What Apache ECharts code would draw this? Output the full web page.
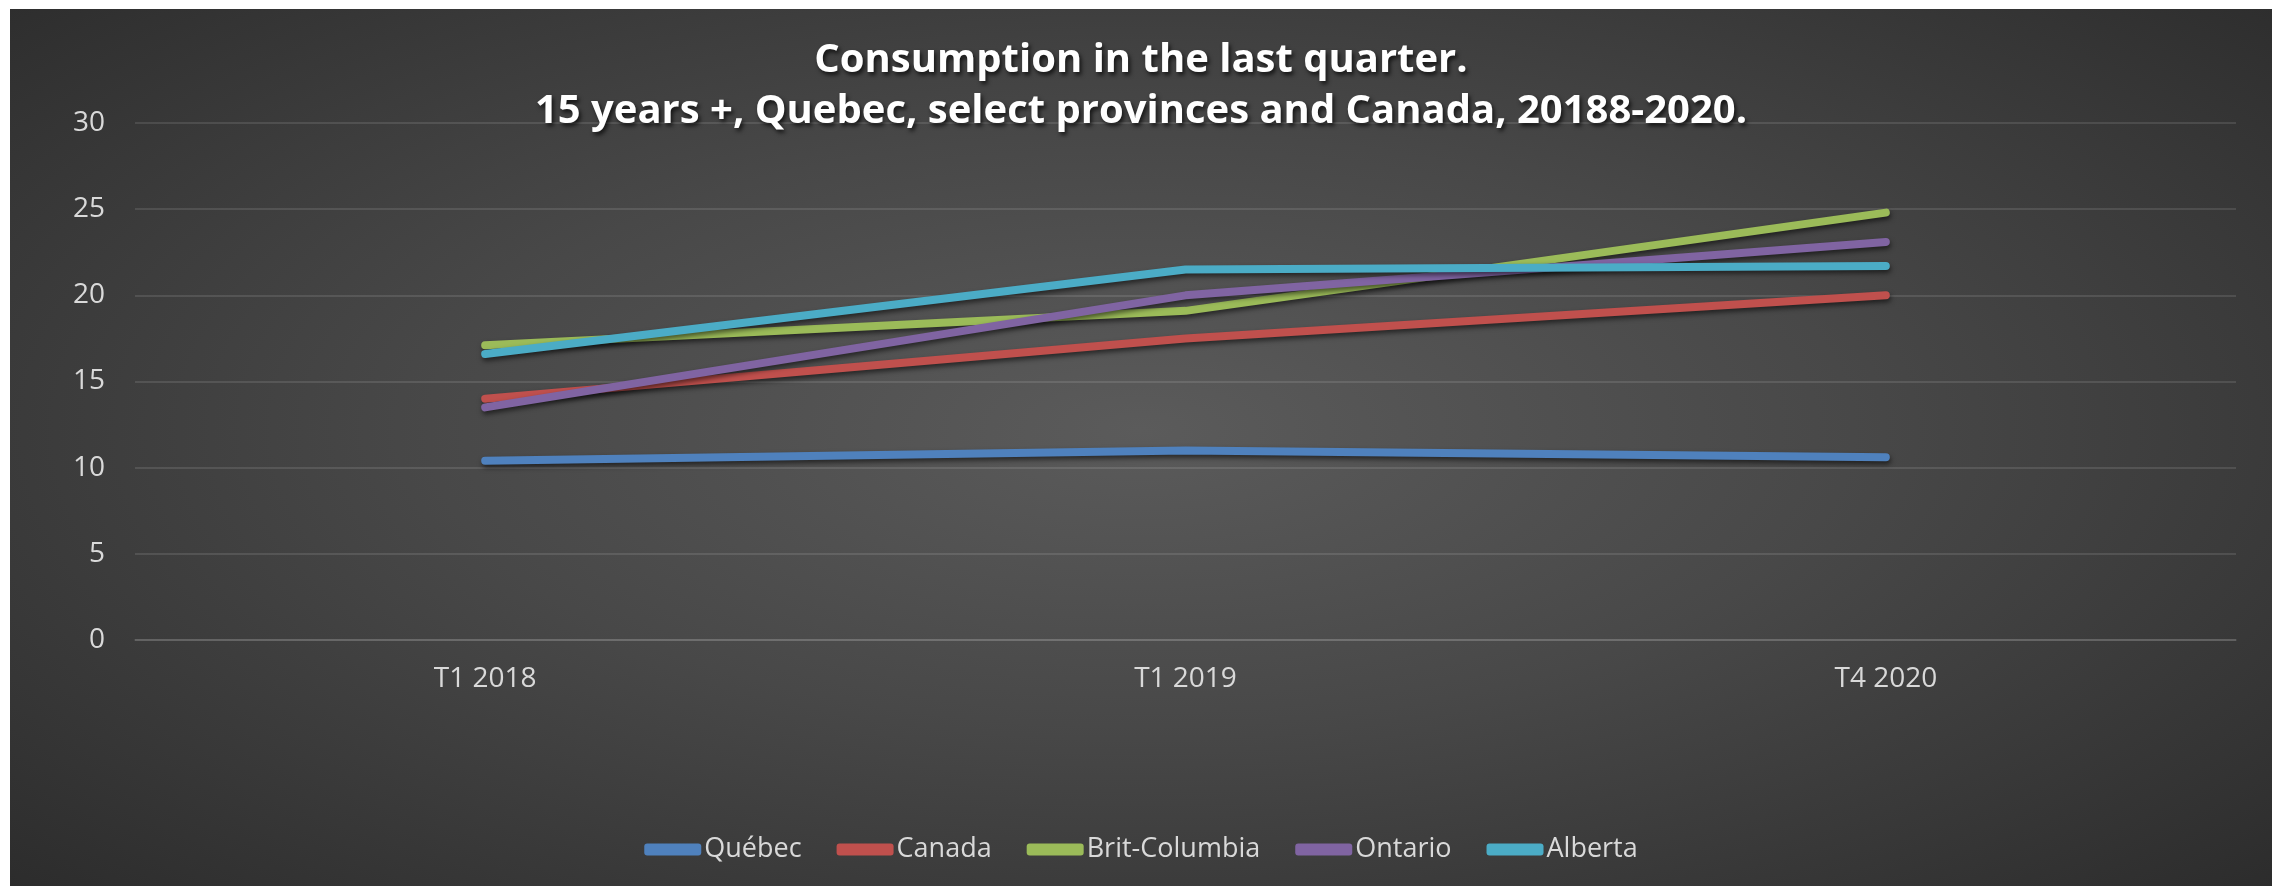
<!DOCTYPE html>
<html>
<head>
<meta charset="utf-8">
<script src="https://cdn.jsdelivr.net/npm/echarts@6/dist/echarts.min.js"></script>
<style>
html,body{margin:0;padding:0;background:#fff;width:2272px;height:886px;overflow:hidden;}
#chart{position:absolute;left:10px;top:9px;width:2262px;height:877px;
background:radial-gradient(ellipse 70% 75% at 50% 48%, #5b5b5b 0%, #484848 45%, #2c2c2c 100%);}
</style>
</head>
<body>
<div id="chart"></div>
<script>
const categories = ['T1 2018', 'T1 2019', 'T4 2020'];
const quebec = [10.4, 11.0, 10.6];
const canada = [14.0, 17.5, 20.0];
const britColumbia = [17.1, 19.1, 24.8];
const ontario = [13.5, 20.0, 23.1];
const alberta = [16.6, 21.5, 21.7];
const seriesNames = ['Québec', 'Canada', 'Brit-Columbia', 'Ontario', 'Alberta'];
const seriesData = [quebec, canada, britColumbia, ontario, alberta];
const colors = ['#4f81bd', '#c0504d', '#9bbb59', '#8064a2', '#4bacc6'];
const titleLines = ['Consumption in the last quarter.', '15 years +, Quebec, select provinces and Canada, 20188-2020.'];

const chart = echarts.init(document.getElementById('chart'), null, {renderer: 'canvas'});
const font = '"Open Sans", sans-serif';
chart.setOption({
  backgroundColor: 'transparent',
  animation: false,
  color: colors,
  title: {
    text: titleLines.join('\n'),
    left: 'center',
    top: 21,
    textStyle: {
      color: '#ffffff',
      fontFamily: font,
      fontWeight: 'bold',
      fontSize: 40,
      lineHeight: 51,
      textShadowColor: 'rgba(0,0,0,0.7)',
      textShadowBlur: 4,
      textShadowOffsetX: 2,
      textShadowOffsetY: 3
    }
  },
  legend: {
    data: seriesNames,
    bottom: 18,
    left: 'center',
    itemWidth: 57,
    itemHeight: 12,
    itemGap: 35,
    icon: 'roundRect',
    textStyle: {color: '#d9d9d9', fontFamily: font, fontSize: 27, padding: [0, 0, 0, -2]}
  },
  grid: {left: 125, right: 36, top: 114, bottom: 246, containLabel: false},
  xAxis: {
    type: 'category',
    data: categories,
    boundaryGap: true,
    axisLine: {show: true, lineStyle: {color: 'rgba(255,255,255,0.15)', width: 1.5}},
    axisTick: {show: false},
    axisLabel: {color: '#d9d9d9', fontFamily: font, fontSize: 28, margin: 25}
  },
  yAxis: {
    type: 'value',
    min: 0, max: 30, interval: 5,
    axisLine: {show: false},
    axisTick: {show: false},
    axisLabel: {color: '#d9d9d9', fontFamily: font, fontSize: 28, margin: 30},
    splitLine: {lineStyle: {color: 'rgba(255,255,255,0.15)', width: 1.5}}
  },
  series: seriesNames.map((name, i) => ({
    name: name,
    type: 'line',
    data: seriesData[i],
    symbol: 'none',
    lineStyle: {
      width: 8,
      cap: 'round',
      join: 'round',
      color: colors[i],
      shadowColor: 'rgba(0,0,0,0.55)',
      shadowBlur: 5,
      shadowOffsetX: 1,
      shadowOffsetY: 3
    },
    itemStyle: {color: colors[i]}
  }))
});
</script>
</body>
</html>
